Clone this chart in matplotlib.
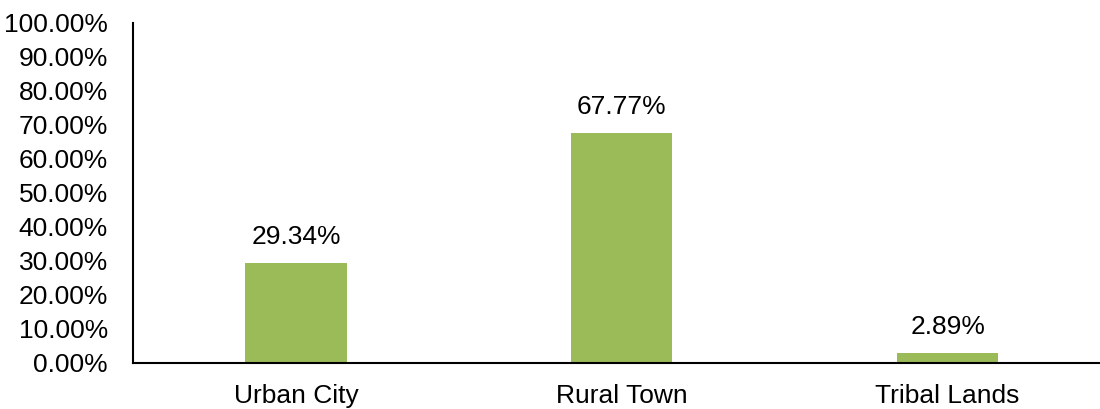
import numpy as np
import matplotlib.pyplot as plt

plt.rcParams['font.family'] = ['Liberation Sans', 'DejaVu Sans']

categories = ['Urban City', 'Rural Town', 'Tribal Lands']
shares = [29.34, 67.77, 2.89]
y_ticks = [0, 10, 20, 30, 40, 50, 60, 70, 80, 90, 100]

fig = plt.figure(figsize=(11, 4.09), dpi=100)
ax = fig.add_axes([133 / 1100, 1 - 363 / 409, (1110.5 - 133) / 1100, 340 / 409])

x = np.arange(len(categories))
bars = ax.bar(x, shares, width=0.311, color='#9BBB59')

for b, v in zip(bars, shares):
    ax.annotate(f'{v:.2f}%', (b.get_x() + b.get_width() / 2, v),
                xytext=(0, 10), textcoords='offset points',
                ha='center', va='bottom', fontsize=19)

ax.set_xlim(-0.5, 2.5)
ax.set_ylim(0, 100)
ax.set_yticks(y_ticks)
ax.set_yticklabels([f'{t:.2f}%' for t in y_ticks])
ax.set_xticks(x)
ax.set_xticklabels(categories)
ax.tick_params(axis='both', length=0, labelsize=19)
ax.tick_params(axis='x', pad=15)
ax.tick_params(axis='y', pad=18)

for s in ['top', 'right']:
    ax.spines[s].set_visible(False)
for s in ['left', 'bottom']:
    ax.spines[s].set_linewidth(1.5)
    ax.spines[s].set_color('black')

fig.savefig('out.png', dpi=100)
